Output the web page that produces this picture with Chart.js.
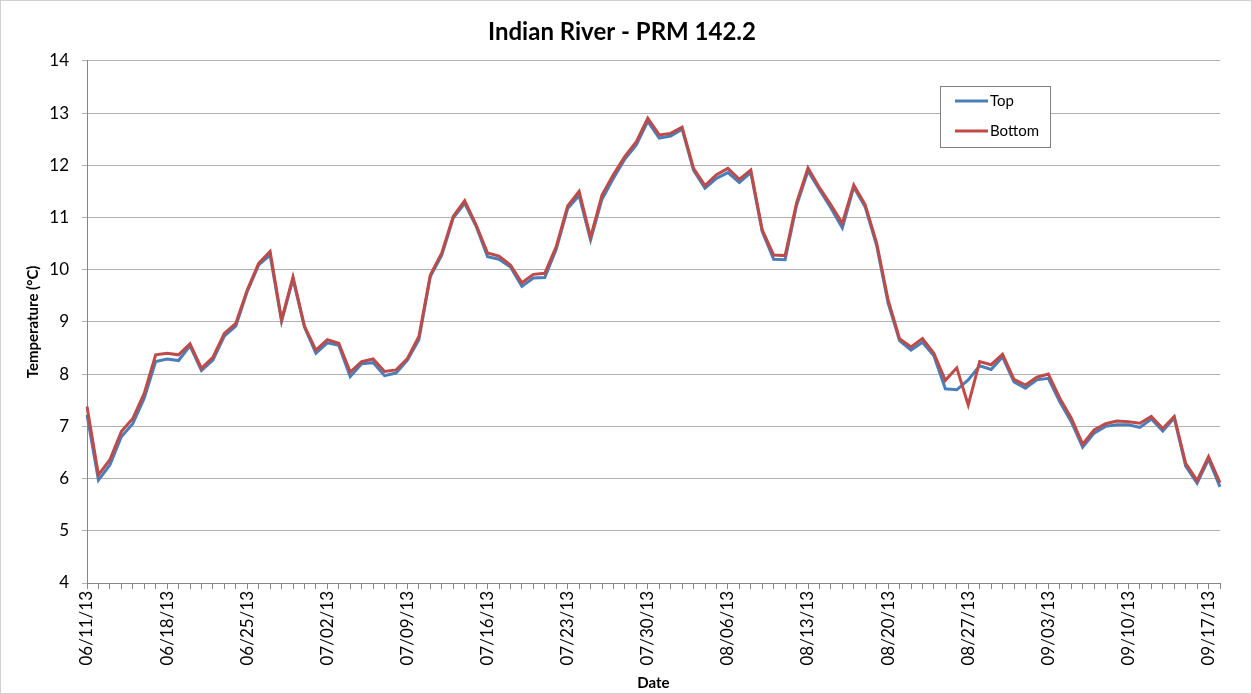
<!DOCTYPE html>
<html>
<head>
<meta charset="utf-8">
<script src="https://cdn.jsdelivr.net/npm/chart.js@4.4.1/dist/chart.umd.min.js"></script>
<style>
html,body{margin:0;padding:0;background:#fff;}
#wrap{width:1252px;height:694px;position:relative;}
</style>
</head>
<body>
<div id="wrap"><canvas id="c" width="1252" height="694"></canvas></div>
<script>
const dates = [
'06/11/13','06/12/13','06/13/13','06/14/13','06/15/13','06/16/13','06/17/13','06/18/13','06/19/13','06/20/13',
'06/21/13','06/22/13','06/23/13','06/24/13','06/25/13','06/26/13','06/27/13','06/28/13','06/29/13','06/30/13',
'07/01/13','07/02/13','07/03/13','07/04/13','07/05/13','07/06/13','07/07/13','07/08/13','07/09/13','07/10/13',
'07/11/13','07/12/13','07/13/13','07/14/13','07/15/13','07/16/13','07/17/13','07/18/13','07/19/13','07/20/13',
'07/21/13','07/22/13','07/23/13','07/24/13','07/25/13','07/26/13','07/27/13','07/28/13','07/29/13','07/30/13',
'07/31/13','08/01/13','08/02/13','08/03/13','08/04/13','08/05/13','08/06/13','08/07/13','08/08/13','08/09/13',
'08/10/13','08/11/13','08/12/13','08/13/13','08/14/13','08/15/13','08/16/13','08/17/13','08/18/13','08/19/13',
'08/20/13','08/21/13','08/22/13','08/23/13','08/24/13','08/25/13','08/26/13','08/27/13','08/28/13','08/29/13',
'08/30/13','08/31/13','09/01/13','09/02/13','09/03/13','09/04/13','09/05/13','09/06/13','09/07/13','09/08/13',
'09/09/13','09/10/13','09/11/13','09/12/13','09/13/13','09/14/13','09/15/13','09/16/13','09/17/13','09/18/13'
];
const tickLabels = ['06/11/13','06/18/13','06/25/13','07/02/13','07/09/13','07/16/13','07/23/13','07/30/13','08/06/13','08/13/13','08/20/13','08/27/13','09/03/13','09/10/13','09/17/13'];
const topTemp = [
7.22,5.97,6.26,6.80,7.05,7.54,8.24,8.29,8.26,8.54,
8.07,8.27,8.73,8.92,9.58,10.09,10.28,9.01,9.82,8.90,
8.40,8.60,8.55,7.95,8.20,8.22,7.97,8.02,8.27,8.66,
9.87,10.28,10.99,11.27,10.83,10.25,10.20,10.05,9.68,9.84,
9.85,10.39,11.17,11.42,10.57,11.35,11.75,12.12,12.39,12.84,
12.52,12.56,12.69,11.90,11.56,11.75,11.86,11.67,11.86,10.73,
10.20,10.19,11.23,11.89,11.53,11.18,10.80,11.58,11.20,10.46,
9.36,8.64,8.46,8.61,8.35,7.72,7.70,7.89,8.16,8.09,
8.33,7.85,7.73,7.89,7.92,7.47,7.09,6.60,6.87,7.00,
7.03,7.03,6.98,7.14,6.91,7.16,6.24,5.91,6.37,5.84
];
const bottomTemp = [
7.38,6.07,6.36,6.90,7.15,7.63,8.37,8.40,8.37,8.58,
8.11,8.32,8.78,8.97,9.61,10.12,10.35,9.04,9.86,8.92,
8.46,8.66,8.59,8.04,8.24,8.29,8.05,8.08,8.30,8.72,
9.90,10.32,11.02,11.32,10.86,10.32,10.26,10.09,9.75,9.91,
9.93,10.44,11.22,11.50,10.62,11.43,11.82,12.17,12.45,12.90,
12.58,12.61,12.73,11.94,11.61,11.82,11.94,11.73,11.91,10.76,
10.28,10.27,11.28,11.95,11.57,11.24,10.89,11.62,11.24,10.51,
9.42,8.68,8.52,8.68,8.40,7.88,8.12,7.41,8.24,8.18,
8.38,7.90,7.79,7.94,8.00,7.54,7.16,6.66,6.93,7.05,
7.10,7.09,7.06,7.19,6.96,7.19,6.29,5.96,6.42,5.92
];
const yTicks = [4,5,6,7,8,9,10,11,12,13,14];

const FONT = "Lato, 'Open Sans', sans-serif";
const BLUE = '#4A7EBB';
const RED = '#BE4B48';

const legendBox = {
  id: 'legendBox',
  afterDraw(chart) {
    const ctx = chart.ctx;
    const x = 940, y = 86, w = 110, h = 61;
    ctx.save();
    ctx.fillStyle = '#fff';
    ctx.fillRect(x, y, w, h);
    ctx.strokeStyle = '#7f7f7f';
    ctx.lineWidth = 1;
    ctx.strokeRect(x + 0.5, y + 0.5, w, h);
    const items = chart.data.datasets;
    items.forEach((ds, i) => {
      const ly = y + 15 + i * 30;
      ctx.strokeStyle = ds.borderColor;
      ctx.lineWidth = 3;
      ctx.beginPath();
      ctx.moveTo(x + 15, ly);
      ctx.lineTo(x + 48, ly);
      ctx.stroke();
      ctx.fillStyle = '#000';
      ctx.font = '15px ' + FONT;
      ctx.textBaseline = 'middle';
      ctx.textAlign = 'left';
      ctx.fillText(ds.label, x + 50, ly);
    });
    ctx.restore();
  }
};
const frame = {
  id: 'frame',
  afterDraw(chart) {
    const ctx = chart.ctx;
    ctx.save();
    ctx.strokeStyle = '#d0d0d0';
    ctx.lineWidth = 1;
    ctx.strokeRect(0.5, 0.5, chart.width - 1, chart.height - 1);
    ctx.restore();
  }
};

new Chart(document.getElementById('c'), {
  type: 'line',
  data: {
    labels: dates,
    datasets: [
      { label: 'Top', data: topTemp, borderColor: BLUE, backgroundColor: BLUE, borderWidth: 3, pointRadius: 0, tension: 0, order: 2 },
      { label: 'Bottom', data: bottomTemp, borderColor: RED, backgroundColor: RED, borderWidth: 3, pointRadius: 0, tension: 0, order: 1 }
    ]
  },
  options: {
    responsive: false,
    animation: false,
    events: [],
    layout: { padding: { left: 24, right: 32, top: 0, bottom: 0 } },
    plugins: {
      legend: { display: false },
      tooltip: { enabled: false },
      title: {
        display: true,
        text: 'Indian River - PRM 142.2',
        color: '#000',
        font: { family: FONT, size: 24, weight: 'bold', lineHeight: 1.2 },
        padding: { top: 18, bottom: 14 }
      }
    },
    scales: {
      x: {
        type: 'category',
        offset: false,
        grid: { drawOnChartArea: false, drawTicks: true, tickLength: 6, color: '#868686' },
        border: { color: '#868686', width: 1 },
        ticks: {
          autoSkip: false,
          minRotation: 90,
          maxRotation: 90,
          padding: 2,
          color: '#000',
          font: { family: FONT, size: 17 },
          callback: function(v, i) { const l = dates[i]; return tickLabels.includes(l) ? l : ''; }
        },
        title: { display: true, text: 'Date', color: '#000', font: { family: FONT, size: 15, weight: 'bold' }, padding: { top: 2, bottom: 2 } },
        afterFit(scale) { scale.height = 111; }
      },
      y: {
        min: 4, max: 14,
        afterBuildTicks(scale) { scale.ticks = yTicks.map(v => ({ value: v })); },
        grid: { color: '#b0b0b0', lineWidth: 1, drawTicks: true, tickLength: 5 },
        border: { color: '#868686', width: 1 },
        ticks: { color: '#000', font: { family: FONT, size: 17 }, padding: 13 },
        title: { display: true, text: 'Temperature (°C)', color: '#000', font: { family: FONT, size: 15, weight: 'bold' }, padding: { top: 0, bottom: 4 } },
        afterFit(scale) { scale.width = 63; }
      }
    }
  },
  plugins: [legendBox, frame]
});
</script>
</body>
</html>
